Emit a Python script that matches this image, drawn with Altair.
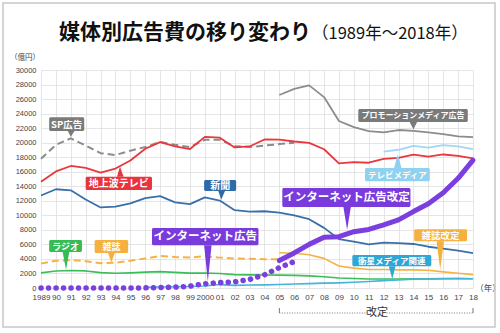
import altair as alt
import pandas as pd

years = list(range(1989, 2019))

# 地上波テレビ 1989-2018
tv_terrestrial = [14627, 16046, 16793, 16526, 15891, 16435, 17553, 19162, 20079, 19505,
                  19121, 20793, 20681, 19351, 19480, 20436, 20411, 20161, 19981, 19092,
                  17139, 17321, 17237, 17757, 17913, 18347, 18088, 18374, 18178, 17848]
# 新聞 1989-2018
newspaper = [12725, 13592, 13445, 12172, 11087, 11211, 11657, 12379, 12636, 11787,
             11535, 12474, 12027, 10707, 10500, 10559, 10377, 9986, 9462, 8276,
             6739, 6396, 5990, 6242, 6170, 6057, 5679, 5431, 5147, 4784]
# ラジオ 1989-2018
radio = [2084, 2335, 2406, 2350, 2114, 2021, 2082, 2181, 2247, 2153,
         2043, 2071, 1998, 1837, 1807, 1795, 1778, 1744, 1671, 1549,
         1370, 1299, 1247, 1246, 1243, 1272, 1254, 1285, 1290, 1278]
# 雑誌 (旧) 1989-2005
magazine_years = list(range(1989, 2006))
magazine = [3354, 3741, 3866, 3692, 3417, 3473, 3743, 4073, 4395, 4258,
            4183, 4369, 4180, 4051, 4035, 3970, 3945]
# 雑誌改定 2005-2018
magazine_rev_years = list(range(2005, 2019))
magazine_rev = [4842, 4777, 4585, 4078, 3034, 2733, 2542, 2551, 2499, 2500, 2443, 2223, 2023, 1841]
# 衛星メディア関連 1996-2018
satellite_years = list(range(1996, 2019))
satellite = [90, 140, 180, 210, 266, 471, 362, 419, 436, 487, 544, 603, 676,
             709, 784, 891, 1013, 1110, 1217, 1235, 1283, 1300, 1275]
# インターネット広告 (旧) 1989-2006
internet_years = list(range(1989, 2007))
internet = [0, 0, 0, 0, 0, 0, 0, 16, 60, 114, 241, 590, 735, 845, 1183, 1814, 2808, 3630]
# インターネット広告改定 2005-2018
internet_rev_years = list(range(2005, 2019))
internet_rev = [3777, 4826, 6003, 6983, 7069, 7747, 8062, 8680, 9381, 10519, 11594, 13100, 15094, 17589]
# SP広告 1989-2006
sp_years = list(range(1989, 2007))
sp = [17800, 19700, 20600, 19600, 18550, 18300, 18900, 19400, 20100, 19700,
      19400, 20400, 20400, 19500, 19400, 19600, 19800, 20000]
# プロモーションメディア広告 2005-2018
promo_years = list(range(2005, 2019))
promo = [26563, 27398, 27886, 26272, 22987, 22147, 21596, 21424, 21741, 21610, 21417, 21184, 20875, 20760]
# テレビメディア 2012-2018
tvmedia_years = list(range(2012, 2019))
tvmedia = [18770, 19023, 19564, 19323, 19657, 19478, 19123]

y_ticks = list(range(0, 30001, 2000))

# callout labels
labels = ["SP広告", "地上波テレビ", "新聞", "ラジオ", "雑誌", "インターネット広告",
          "インターネット広告改定", "テレビメディア", "プロモーションメディア広告", "雑誌改定", "衛星メディア関連"]
box_x1 = [1989.55, 1992.0, 1999.95, 1989.55, 1992.6, 1996.45, 2005.2, 2010.75, 2010.3, 2014.05, 2009.9]
box_x2 = [1991.9, 1996.45, 2002.1, 1991.75, 1994.85, 2003.6, 2013.8, 2015.1, 2017.65, 2017.6, 2015.2]
box_top = [23500, 15300, 14850, 6600, 6600, 8250, 13750, 16500, 24650, 8100, 4550]
box_bot = [21600, 13500, 13350, 4950, 4800, 5900, 11150, 14700, 22850, 6450, 3000]
box_color = ["#7a7a7a", "#e8343c", "#2f6aa8", "#36bb55", "#f5b13f", "#7a3bdc",
             "#7a3bdc", "#8fd1ef", "#7a7a7a", "#f5b13f", "#2ea6d6"]
box_font = [9.5, 10, 10, 9, 9, 11.5, 11.5, 8.5, 8, 9.5, 8.5]
# pointers: base left x, tip x, base right x, base value, tip value
ptr_x1 = [1990.8, 1994.1, 2000.9, 1990.45, 1993.5, 1999.95, 2009.3, 2012.7, 2013.75, 2015.55, 2012.35]
ptr_tx = [1991.0, 1994.3, 2001.1, 1990.68, 1993.72, 2000.2, 2009.55, 2012.95, 2014.0, 2015.8, 2012.58]
ptr_x2 = [1991.25, 1994.55, 2001.35, 1990.9, 1993.95, 2000.45, 2009.8, 2013.2, 2014.25, 2016.05, 2012.8]
ptr_base = [21600, 15300, 13350, 4950, 4800, 5900, 11150, 16500, 22850, 6450, 3000]
ptr_tip = [20800, 16700, 12150, 2500, 3500, 900, 8000, 18400, 21800, 2500, 1250]

# 改定 bracket (years)
bracket_start = [2005, 2012.2]
bracket_end = [2010.9, 2018]
bracket_label_year = 2011.55

FONT = "Noto Sans CJK JP"
NUMFONT = "Liberation Sans"

xscale = alt.Scale(domain=[1989, 2018], nice=False, zero=False)
yscale = alt.Scale(domain=[0, 30000], nice=False)
xaxis = alt.Axis(values=years, grid=True, ticks=False, domain=False, labelOverlap=False,
                 labelFlush=False, format="d", labelPadding=5, labelFontSize=8,
                 labelFont=NUMFONT, labelColor="#444",
                 labelExpr="datum.value == 1989 || datum.value == 2000 ? datum.label : slice(datum.label, 2)")
yaxis = alt.Axis(values=y_ticks, grid=True, ticks=False, domain=False, format="d",
                 labelPadding=5, labelFontSize=7.5, labelFont=NUMFONT, labelColor="#444")


def X(f):
    return alt.X(f, scale=xscale, axis=xaxis, title=None)


def Y(f):
    return alt.Y(f, scale=yscale, axis=yaxis, title=None)


def series(xs, vs, color, width=2.0, dash=None, cap="butt"):
    df = pd.DataFrame({"year": xs, "value": vs})
    kw = dict(color=color, strokeWidth=width, strokeCap=cap, strokeJoin="round")
    if dash is not None:
        kw["strokeDash"] = dash
    return alt.Chart(df).mark_line(**kw).encode(x=X("year:Q"), y=Y("value:Q"))


lines = [
    series(sp_years, sp, "#8c8c8c", 2.0, [7, 4]),
    series(promo_years, promo, "#8c8c8c", 1.8),
    series(tvmedia_years, tvmedia, "#9fd8f2", 1.8),
    series(years, tv_terrestrial, "#e8383d", 1.8),
    series(years, newspaper, "#3a70aa", 1.8),
    series(magazine_years, magazine, "#f5b246", 2.0, [7, 4]),
    series(magazine_rev_years, magazine_rev, "#f5b246", 1.6),
    series(years, radio, "#3dbd5a", 1.6),
    series(satellite_years, satellite, "#45b4dc", 1.6),
    series(internet_years, internet, "#7b3fe0", 5.5, [0.1, 7.4], "round"),
    series(internet_rev_years, internet_rev, "#7b3fe0", 5.0, None, "round"),
]

# pointer triangles
prow = []
for i in range(len(labels)):
    for xx, vv in ((ptr_x1[i], ptr_base[i]), (ptr_tx[i], ptr_tip[i]), (ptr_x2[i], ptr_base[i])):
        prow.append({"id": i, "x": xx, "v": vv, "b": ptr_base[i], "c": box_color[i]})
pointers = alt.Chart(pd.DataFrame(prow)).mark_area(opacity=1).encode(
    x=X("x:Q"), y=Y("v:Q"), y2="b:Q",
    color=alt.Color("c:N", scale=None),
    detail="id:N",
)

bdf = pd.DataFrame({"label": labels, "x1": box_x1, "x2": box_x2, "t": box_top, "b": box_bot,
                    "c": box_color, "fs": box_font})
bdf["xm"] = (bdf["x1"] + bdf["x2"]) / 2
bdf["ym"] = (bdf["t"] + bdf["b"]) / 2
boxes = alt.Chart(bdf).mark_rect(cornerRadius=1.5).encode(
    x=X("x1:Q"), x2="x2:Q", y=Y("t:Q"), y2="b:Q",
    color=alt.Color("c:N", scale=None),
)
box_text = alt.Chart(bdf).mark_text(font=FONT, fontWeight="bold", color="white", baseline="middle",
                                    align="center", dy=0.5).encode(
    x=X("xm:Q"), y=Y("ym:Q"),
    text="label:N",
    size=alt.Size("fs:Q", scale=None),
)

one = pd.DataFrame({"a": [0]})
title_main = alt.Chart(one).mark_text(text="媒体別広告費の移り変わり", font=FONT, fontSize=21,
                                      fontWeight="bold", align="left", baseline="middle", color="#111").encode(
    x=alt.value(18), y=alt.value(-37))
title_sub = alt.Chart(one).mark_text(text="（1989年～2018年）", font=FONT, fontSize=16.5,
                                     align="left", baseline="middle", color="#111").encode(
    x=alt.value(271), y=alt.value(-36))
unit_y = alt.Chart(one).mark_text(text="（億円）", font=FONT, fontSize=7.5, align="center",
                                  baseline="middle", color="#444").encode(
    x=alt.value(-16), y=alt.value(-12))
unit_x = alt.Chart(one).mark_text(text="（年）", font=FONT, fontSize=8.5, align="center",
                                  baseline="middle", color="#444").encode(
    x=alt.value(447), y=alt.value(218))

brdf = pd.DataFrame({"s": bracket_start, "e": bracket_end})
bracket = alt.Chart(brdf).mark_rule(color="#777", strokeDash=[1, 1.5], strokeWidth=1).encode(
    x=X("s:Q"), x2="e:Q", y=alt.value(243))
endf = pd.DataFrame({"s": [bracket_start[0], bracket_end[-1]]})
bracket_ends = alt.Chart(endf).mark_rule(color="#777", strokeWidth=1).encode(
    x=X("s:Q"), y=alt.value(238), y2=alt.value(243))
bracket_text = alt.Chart(pd.DataFrame({"s": [bracket_label_year], "t": ["改定"]})).mark_text(
    font=FONT, fontSize=11, color="#333", baseline="middle", align="center").encode(
    x=X("s:Q"), y=alt.value(243), text="t:N")

frame = alt.Chart(one).mark_rect(fillOpacity=0, stroke="#c8c8c8", strokeWidth=1.5).encode(
    x=alt.value(-38), x2=alt.value(454), y=alt.value(-67), y2=alt.value(257))

chart = alt.layer(
    *lines, pointers, boxes, box_text,
    title_main, title_sub, unit_y, unit_x,
    bracket, bracket_ends, bracket_text, frame,
).properties(
    width=432, height=218,
    autosize=alt.AutoSizeParams(type="none"),
    padding={"left": 41, "top": 70, "right": 27, "bottom": 45},
    background="white",
).configure_view(stroke=None).configure_axis(gridColor="#dedede", gridWidth=0.8)

chart.save("out.html", embed_options={"renderer": "svg", "actions": False})
